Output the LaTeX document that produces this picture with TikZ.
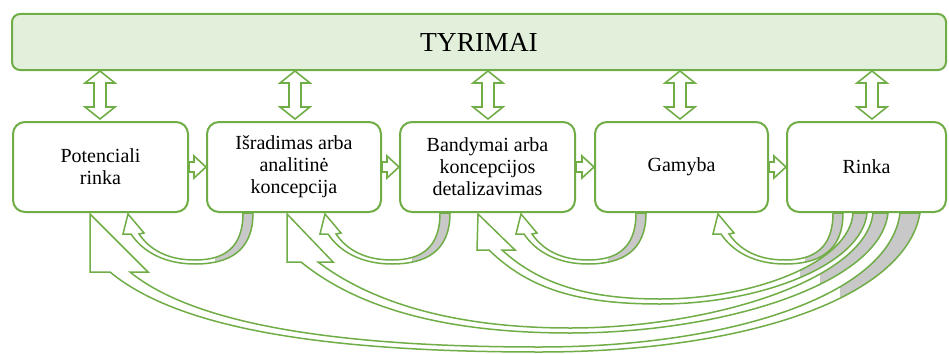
\documentclass[tikz,border=0pt]{standalone}
\usepackage{fontspec}
\setmainfont{Liberation Serif}
\usetikzlibrary{calc}
\definecolor{offgreen}{HTML}{70AD47}
\definecolor{barfill}{HTML}{E2EFDA}
\definecolor{backgrey}{HTML}{C8C8C8}
\tikzset{
  bar/.style={draw=offgreen,line width=2pt,fill=barfill,rounded corners=8pt,font=\fontsize{27.5}{31}\selectfont},
  box/.style={draw=offgreen,line width=2pt,fill=white,rounded corners=12pt,align=center,
    minimum height=90pt,font=\fontsize{20}{22}\selectfont},
  blockarrow/.style={draw=offgreen,line width=1.6pt,fill=white,line join=miter},
  band/.style={draw=offgreen,line width=1.5pt,line join=miter},
}
\newcommand{\bandarrow}[2]{%
  \fill[white] #1;
  \begin{scope}
    \clip (#2,213) rectangle (949,353);
    \fill[backgrey] #1;
  \end{scope}
  \draw[band] #1;
}
\begin{document}
\begin{tikzpicture}[x=1pt,y=-1pt]
\useasboundingbox (0,0) rectangle (949,353);

\node[bar,minimum width=934pt,minimum height=56pt] (tyrimai) at (479,42) {TYRIMAI};

% curved block arrows back from later stages
\bandarrow{(920,213) .. controls (905,300) and (740,352) .. (540,352) .. controls (330,352) and (180,330) .. (110,272) -- (90,272) -- (90,214) -- (148,272) -- (130,272) .. controls (195,325) and (340,347) .. (540,347) .. controls (730,347) and (890,295) .. (900,213) -- cycle}{840}
\bandarrow{(888,213) .. controls (880,285) and (720,333) .. (570,333) .. controls (450,333) and (360,310) .. (301,262) -- (287,262) -- (287,214) -- (333,262) -- (318,262) .. controls (375,305) and (460,328) .. (570,328) .. controls (710,328) and (866,280) .. (873,213) -- cycle}{820}
\bandarrow{(867,213) .. controls (862,265) and (760,304) .. (660,304) .. controls (580,304) and (530,290) .. (489,250) -- (477,250) -- (478,214) -- (515,250) -- (502,250) .. controls (540,285) and (590,299) .. (660,299) .. controls (755,299) and (850,262) .. (853,213) -- cycle}{800}
\foreach \dx in {0,197,393,590}{
  \begin{scope}[xshift=\dx pt]
    \bandarrow{(253,213) .. controls (253,252) and (228,264) .. (195,264) .. controls (165,264) and (143,252) .. (131,234) -- (123,234) -- (128,214) -- (144,233) -- (139,234) .. controls (150,250) and (168,260) .. (195,260) .. controls (224,260) and (243,248) .. (243,213) -- cycle}{215}
  \end{scope}
}

\node[box,minimum width=175pt] (b1) at (100.5,167) {Potenciali\\rinka};
\node[box,minimum width=174pt] (b2) at (294,167) {Išradimas arba\\analitinė\\koncepcija};
\node[box,minimum width=175pt] (b3) at (487.5,167) {Bandymai arba\\koncepcijos\\detalizavimas};
\node[box,minimum width=173pt] (b4) at (681.5,167) {Gamyba};
\node[box,minimum width=159pt] (b5) at (866.5,167) {Rinka};

\foreach \x in {100,295,488,680,872}
  \draw[blockarrow] (\x,71) -- (\x+15,83) -- (\x+6,83) -- (\x+6,107) -- (\x+15,107) -- (\x,119)
    -- (\x-15,107) -- (\x-6,107) -- (\x-6,83) -- (\x-15,83) -- cycle;

\foreach \a/\b in {b1/b2,b2/b3,b3/b4,b4/b5}
  \draw[blockarrow] ($(\a.east)+(0,-5)$) -- ($(\b.west)+(-12,-5)$) -- ($(\b.west)+(-12,-11)$)
    -- (\b.west) -- ($(\b.west)+(-12,11)$) -- ($(\b.west)+(-12,5)$) -- ($(\a.east)+(0,5)$) -- cycle;
\end{tikzpicture}
\end{document}
